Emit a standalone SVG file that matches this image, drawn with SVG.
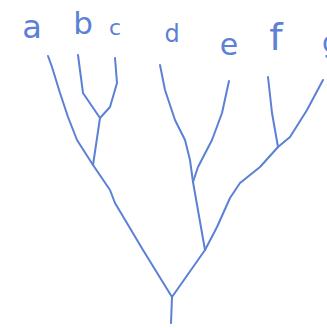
<svg xmlns="http://www.w3.org/2000/svg" width="327" height="328" viewBox="0 0 327 328">
<style>
.e{fill:none;stroke:#5b80d6;stroke-width:2;stroke-linecap:round;stroke-linejoin:round}
.l{fill:#5b80d6;font-family:"DejaVu Sans",sans-serif;text-anchor:middle}
</style>
<rect width="327" height="328" fill="#fff"/>
<g id="connectors">
<path class="e" d="M48,56 L52,67 L60,93 L68,117 L77,140 L93,165"/>
<path class="e" d="M78,55 L83,93 L100,118"/>
<path class="e" d="M115,58 L117,83 L110,107 L100,118"/>
<path class="e" d="M100,118 L93,165"/>
<path class="e" d="M93,165 L110,190 L115,203 L143,250 L172,297"/>
<path class="e" d="M160,65 L165,90 L175,120 L185,140 L190,160 L193,182"/>
<path class="e" d="M229,81 L222,113 L212,140 L198,167 L193,182"/>
<path class="e" d="M193,182 L205,250"/>
<path class="e" d="M268,77 L272,113 L278,147"/>
<path class="e" d="M323,80 L307,110 L290,137 L278,147"/>
<path class="e" d="M278,147 L260,167 L240,183 L230,198 L217,227 L205,250"/>
<path class="e" d="M205,250 L172,297"/>
<path class="e" d="M172,297 L171,323"/>
</g>
<g id="a"><text class="l" x="32" y="38" font-size="32">a</text></g>
<g id="b"><text class="l" x="83" y="34" font-size="31">b</text></g>
<g id="c"><text class="l" x="115" y="35" font-size="22">c</text></g>
<g id="d"><text class="l" x="172" y="42" font-size="24">d</text></g>
<g id="e"><text class="l" x="229" y="55" font-size="30">e</text></g>
<g id="f"><text class="l" x="276" y="50" font-size="38">f</text></g>
<g id="g"><text class="l" x="331" y="52" font-size="28">g</text></g>
</svg>
